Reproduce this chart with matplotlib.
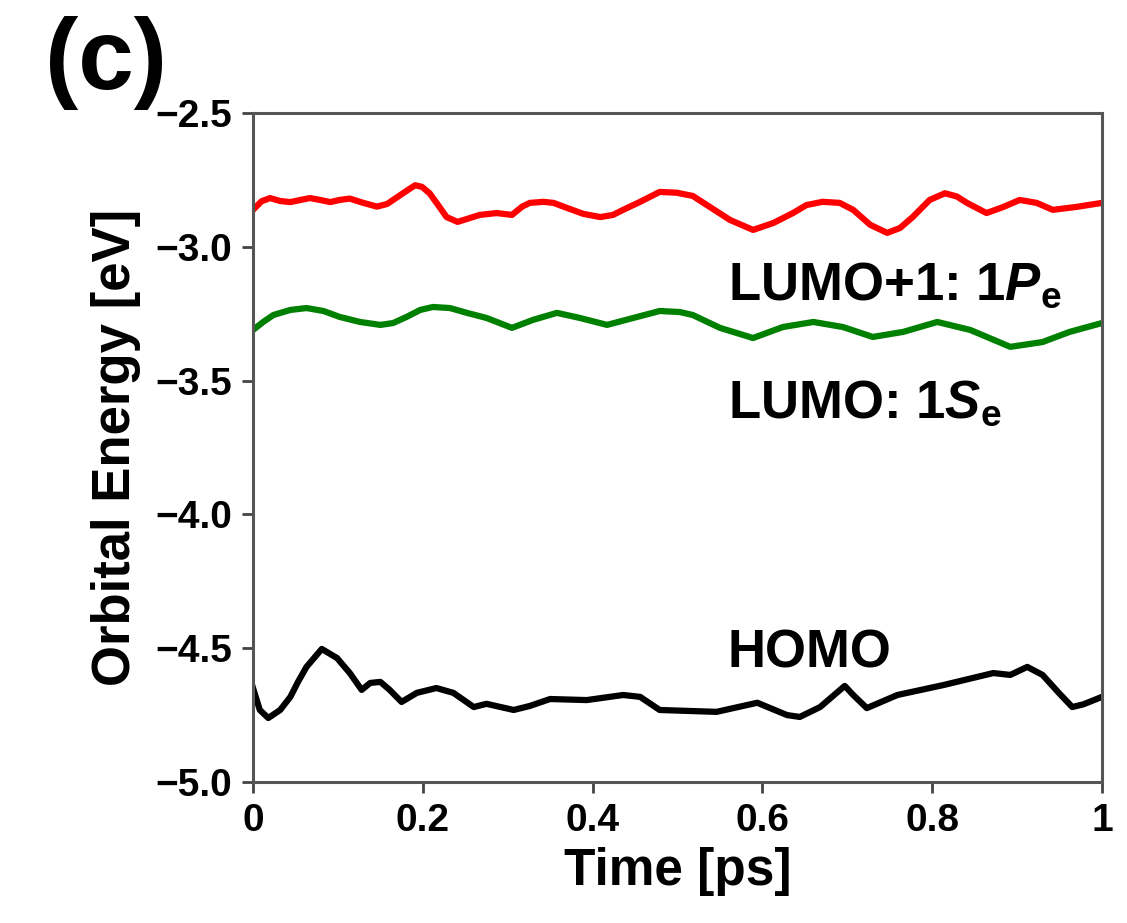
import matplotlib.pyplot as plt

plt.rcParams['font.family'] = ['Liberation Sans', 'DejaVu Sans']
plt.rcParams['font.weight'] = 'bold'
plt.rcParams['axes.labelweight'] = 'bold'
plt.rcParams['mathtext.fontset'] = 'custom'
plt.rcParams['mathtext.rm'] = 'Liberation Sans:bold'
plt.rcParams['mathtext.it'] = 'Liberation Sans:bold:italic'
plt.rcParams['mathtext.bf'] = 'Liberation Sans:bold'

# LUMO+1 (red)
t_lumo1 = [0.0, 0.01, 0.02, 0.032, 0.044, 0.056, 0.067, 0.079, 0.091, 0.102,
           0.114, 0.13, 0.146, 0.158, 0.165, 0.179, 0.191, 0.199, 0.208, 0.218,
           0.228, 0.241, 0.256, 0.267, 0.287, 0.305, 0.317, 0.326, 0.342, 0.354,
           0.37, 0.389, 0.409, 0.424, 0.436, 0.456, 0.479, 0.499, 0.518, 0.538,
           0.562, 0.589, 0.613, 0.636, 0.652, 0.671, 0.691, 0.707, 0.727, 0.747,
           0.762, 0.777, 0.797, 0.815, 0.829, 0.841, 0.864, 0.884, 0.903, 0.923,
           0.942, 0.97, 1.0]
e_lumo1 = [-2.862, -2.830, -2.818, -2.829, -2.833, -2.825, -2.818, -2.825, -2.833, -2.825,
           -2.82, -2.836, -2.85, -2.84, -2.825, -2.795, -2.77, -2.776, -2.80, -2.844,
           -2.889, -2.907, -2.892, -2.881, -2.874, -2.881, -2.85, -2.836, -2.832, -2.836,
           -2.855, -2.877, -2.889, -2.881, -2.862, -2.832, -2.795, -2.798, -2.81, -2.851,
           -2.90, -2.937, -2.911, -2.874, -2.844, -2.832, -2.836, -2.862, -2.918, -2.948,
           -2.93, -2.889, -2.825, -2.80, -2.812, -2.836, -2.874, -2.851, -2.825, -2.836,
           -2.862, -2.851, -2.836]

# LUMO (green)
t_lumo = [0.0, 0.012, 0.024, 0.044, 0.063, 0.083, 0.102, 0.126, 0.15, 0.165,
          0.181, 0.197, 0.212, 0.232, 0.252, 0.275, 0.305, 0.33, 0.358, 0.385,
          0.417, 0.448, 0.479, 0.503, 0.518, 0.55, 0.589, 0.624, 0.66, 0.695,
          0.73, 0.766, 0.806, 0.845, 0.892, 0.93, 0.962, 1.0]
e_lumo = [-3.311, -3.281, -3.255, -3.236, -3.229, -3.24, -3.262, -3.281, -3.292, -3.285,
          -3.262, -3.236, -3.225, -3.229, -3.247, -3.266, -3.303, -3.273, -3.247, -3.266,
          -3.292, -3.266, -3.240, -3.244, -3.255, -3.303, -3.341, -3.30, -3.281, -3.30,
          -3.337, -3.318, -3.281, -3.311, -3.374, -3.356, -3.318, -3.285]

# HOMO (black)
t_homo = [0.0, 0.008, 0.018, 0.032, 0.044, 0.053, 0.063, 0.081, 0.099, 0.114,
          0.128, 0.138, 0.15, 0.161, 0.175, 0.193, 0.216, 0.236, 0.26, 0.275,
          0.307, 0.326, 0.35, 0.393, 0.436, 0.456, 0.479, 0.546, 0.594, 0.629,
          0.644, 0.668, 0.697, 0.707, 0.723, 0.759, 0.813, 0.872, 0.892, 0.912,
          0.93, 0.95, 0.965, 0.978, 1.0]
e_homo = [-4.649, -4.731, -4.761, -4.731, -4.682, -4.626, -4.570, -4.503, -4.537, -4.593,
          -4.656, -4.63, -4.626, -4.656, -4.701, -4.667, -4.649, -4.667, -4.72, -4.708,
          -4.731, -4.716, -4.69, -4.694, -4.675, -4.682, -4.731, -4.738, -4.704, -4.75,
          -4.757, -4.72, -4.641, -4.675, -4.724, -4.675, -4.638, -4.593, -4.6, -4.57,
          -4.6, -4.67, -4.72, -4.71, -4.682]

xticks = [0, 0.2, 0.4, 0.6, 0.8, 1]
xticklabels = ['0', '0.2', '0.4', '0.6', '0.8', '1']
yticks = [-5.0, -4.5, -4.0, -3.5, -3.0, -2.5]

fig = plt.figure(figsize=(11.27, 9.23), dpi=100)
ax = fig.add_axes([0.2245, 0.1528, 0.7533, 0.7248])

lw = 4.5
ax.plot(t_lumo1, e_lumo1, color='#ff0000', lw=lw, solid_joinstyle='round')
ax.plot(t_lumo, e_lumo, color='#008000', lw=lw, solid_joinstyle='round')
ax.plot(t_homo, e_homo, color='black', lw=lw, solid_joinstyle='round')

ax.set_xlim(0, 1)
ax.set_ylim(-5.0, -2.5)
ax.set_xticks(xticks)
ax.set_xticklabels(xticklabels)
ax.set_yticks(yticks)
ax.set_yticklabels([f'\u2212{abs(v):.1f}' for v in yticks])
ax.tick_params(direction='out', length=8, width=2, labelsize=28, color='#444444',
               pad=7)

for s in ax.spines.values():
    s.set_linewidth(2.2)
    s.set_color('#555555')

ax.set_xlabel('Time [ps]', fontsize=37, labelpad=6)
ax.set_ylabel('Orbital Energy [eV]', fontsize=38, labelpad=10)

ax.text(0.559, -3.199, r'LUMO+1: 1$\mathit{P}_\mathrm{e}$', fontsize=38, va='baseline')
ax.text(0.559, -3.64, r'LUMO: 1$\mathit{S}_\mathrm{e}$', fontsize=38, va='baseline')
ax.text(0.559, -4.574, 'HOMO', fontsize=38, va='baseline')

fig.text(0.04, 0.983, '(c)', fontsize=72, va='top', ha='left')

fig.savefig('out.png', dpi=100)
